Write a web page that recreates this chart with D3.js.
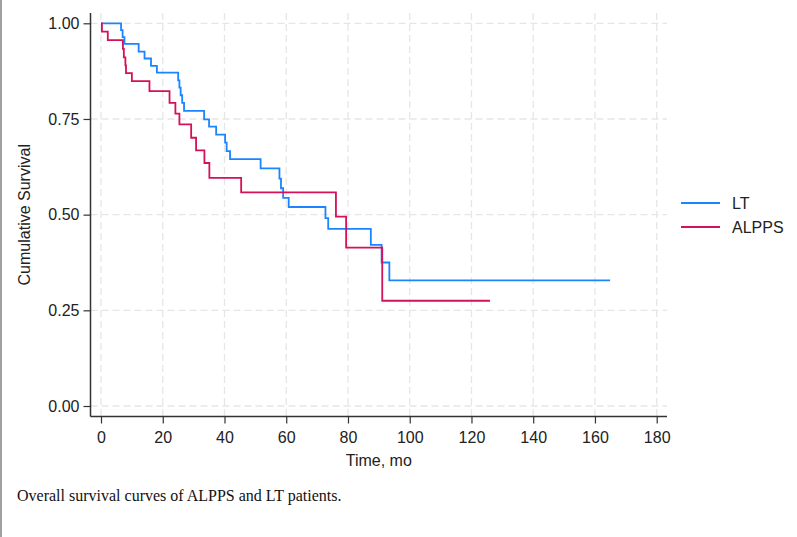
<!DOCTYPE html>
<meta charset="utf-8">
<script src="https://d3js.org/d3.v7.min.js"></script>
<style>
  body { margin: 0; background: #fff; }
</style>
<body>
<div id="chart"></div>
<script>

// survival steps (time in months, cumulative survival)
var ltTime = [0, 6.5, 7.0, 7.6, 12.2, 14.1, 16.2, 18.1, 25.0, 25.4, 25.8, 26.3, 26.9,
              33.4, 35.0, 37.3, 40.2, 40.7, 41.8, 51.7, 57.8, 58.3, 59.0, 60.8,
              72.7, 73.6, 87.4, 90.9, 93.4, 164.9]
var ltSurv = [1.000, 0.982, 0.964, 0.946, 0.926, 0.908, 0.889, 0.871, 0.851, 0.832, 0.812, 0.792, 0.771,
              0.749, 0.730, 0.709, 0.688, 0.666, 0.645, 0.621, 0.594, 0.569, 0.544, 0.520,
              0.491, 0.463, 0.421, 0.375, 0.328, 0.328]

var alppsTime = [0, 0.3, 2.2, 7.1, 7.4, 7.9, 8.1, 10.0, 15.7, 22.2, 24.1, 25.4,
                 29.2, 30.8, 33.5, 35.1, 45.4, 76.1, 79.4, 91.1, 126.0]
var alppsSurv = [1.000, 0.978, 0.956, 0.933, 0.911, 0.890, 0.870, 0.849, 0.823, 0.792, 0.764, 0.736,
                 0.701, 0.668, 0.635, 0.596, 0.558, 0.495, 0.414, 0.275, 0.275]

var groups = ["LT", "ALPPS"]
var colors = ["#1a85ff", "#d41159"]
var xTicks = [0, 20, 40, 60, 80, 100, 120, 140, 160, 180]
var yTicks = [0, 0.25, 0.5, 0.75, 1]

var width = 797
var height = 537

var svg = d3.select("#chart")
  .append("svg")
    .attr("width", width)
    .attr("height", height)

// left edge of the page crop
svg.append("line")
    .attr("x1", 1).attr("x2", 1)
    .attr("y1", 0).attr("y2", height)
    .attr("stroke", "#a0a0a0")
    .attr("stroke-width", 2)

// plot frame
var plotLeft = 90.5, plotRight = 667, plotTop = 13, plotBottom = 416.5

var x = d3.scaleLinear().domain([0, 180]).range([101, 656.7])
var y = d3.scaleLinear().domain([0, 1]).range([406, 23.3])

// grid
svg.selectAll(".vgrid")
  .data(xTicks)
  .enter()
  .append("line")
    .attr("x1", function(d){ return x(d) })
    .attr("x2", function(d){ return x(d) })
    .attr("y1", plotTop)
    .attr("y2", plotBottom)
    .attr("stroke", "#e6e6e6")
    .attr("stroke-width", 1.3)
    .style("stroke-dasharray", "7,4")

svg.selectAll(".hgrid")
  .data(yTicks)
  .enter()
  .append("line")
    .attr("x1", plotLeft)
    .attr("x2", plotRight)
    .attr("y1", function(d){ return y(d) })
    .attr("y2", function(d){ return y(d) })
    .attr("stroke", "#e6e6e6")
    .attr("stroke-width", 1.3)
    .style("stroke-dasharray", "7,4")

// axes
svg.append("g")
    .attr("transform", "translate(0," + plotBottom + ")")
    .call(d3.axisBottom(x).tickValues(xTicks).tickSize(7).tickPadding(8))
svg.append("g")
    .attr("transform", "translate(" + plotLeft + ",0)")
    .call(d3.axisLeft(y).tickValues(yTicks).tickSize(7).tickPadding(4).tickFormat(d3.format(".2f")))

svg.selectAll(".domain").remove()
svg.selectAll(".tick line").attr("stroke", "#333").attr("stroke-width", 1.2)
svg.selectAll(".tick text")
    .style("font-family", "'Liberation Sans', Arial, sans-serif")
    .style("font-size", "16px")
    .attr("fill", "#222")

svg.append("line")
    .attr("x1", plotLeft).attr("x2", plotLeft)
    .attr("y1", plotTop).attr("y2", plotBottom)
    .attr("stroke", "#333").attr("stroke-width", 1.5)
svg.append("line")
    .attr("x1", plotLeft).attr("x2", plotRight)
    .attr("y1", plotBottom).attr("y2", plotBottom)
    .attr("stroke", "#333").attr("stroke-width", 1.5)

// axis titles
svg.append("text")
    .attr("transform", "translate(30," + ((plotTop + plotBottom) / 2) + ") rotate(-90)")
    .attr("text-anchor", "middle")
    .style("font-family", "'Liberation Sans', Arial, sans-serif")
    .style("font-size", "16px")
    .attr("fill", "#222")
    .text("Cumulative Survival")

svg.append("text")
    .attr("x", (plotLeft + plotRight) / 2)
    .attr("y", 466)
    .attr("text-anchor", "middle")
    .style("font-family", "'Liberation Sans', Arial, sans-serif")
    .style("font-size", "16px")
    .attr("fill", "#222")
    .text("Time, mo")

// step curves
var line = d3.line()
    .x(function(d){ return x(d[0]) })
    .y(function(d){ return y(d[1]) })
    .curve(d3.curveStepAfter)

var series = [d3.zip(ltTime, ltSurv), d3.zip(alppsTime, alppsSurv)]

svg.selectAll(".km")
  .data(series)
  .enter()
  .append("path")
    .attr("d", line)
    .attr("fill", "none")
    .attr("stroke", function(d, i){ return colors[i] })
    .attr("stroke-width", 1.8)

// legend
var legend = svg.selectAll(".legend")
  .data(groups)
  .enter()
  .append("g")
    .attr("transform", function(d, i){ return "translate(681," + (203 + i * 24) + ")" })

legend.append("line")
    .attr("x1", 0).attr("x2", 39)
    .attr("stroke", function(d, i){ return colors[i] })
    .attr("stroke-width", 1.8)

legend.append("text")
    .attr("x", 51)
    .attr("dy", "0.35em")
    .style("font-family", "'Liberation Sans', Arial, sans-serif")
    .style("font-size", "16px")
    .attr("fill", "#222")
    .text(function(d){ return d })

// caption
svg.append("text")
    .attr("x", 17)
    .attr("y", 500.5)
    .style("font-family", "'Liberation Serif', 'Times New Roman', serif")
    .style("font-size", "16px")
    .attr("fill", "#111")
    .text("Overall survival curves of ALPPS and LT patients.")

</script>
</body>
